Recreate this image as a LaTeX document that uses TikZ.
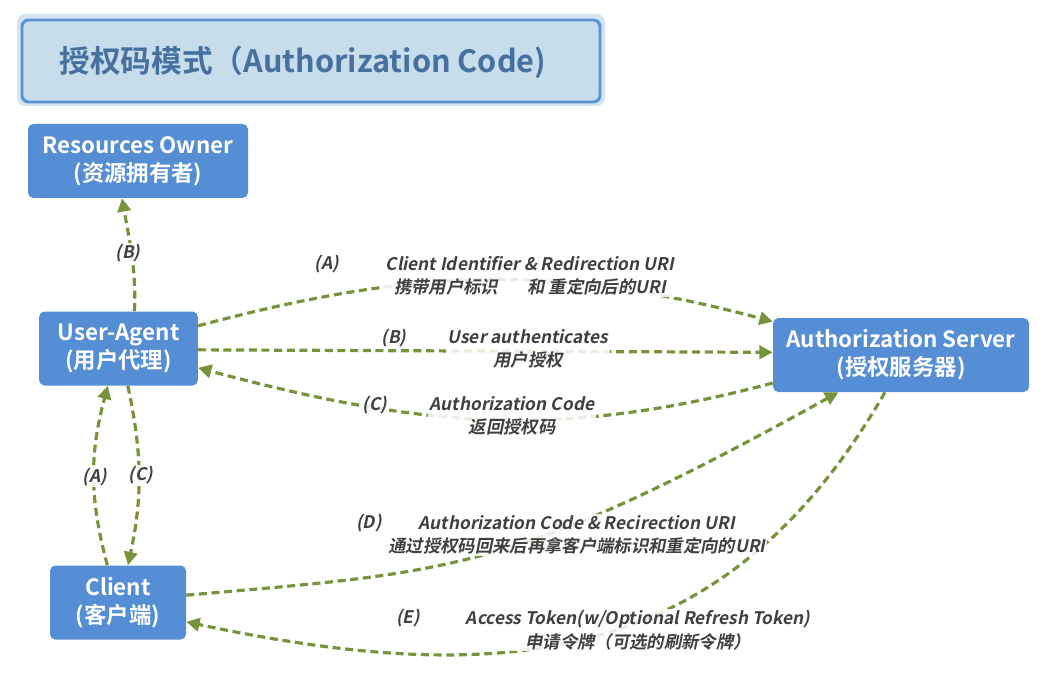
\documentclass[tikz,border=0pt]{standalone}
\usepackage{fontspec}
\setmainfont{Noto Sans CJK SC}[
  BoldFont={Noto Sans CJK SC Bold},
  ItalicFont={Noto Sans CJK SC},
  ItalicFeatures={FakeSlant=0.2},
  BoldItalicFont={Noto Sans CJK SC Bold},
  BoldItalicFeatures={FakeSlant=0.2}]
\usepackage{xcolor}
\usetikzlibrary{arrows.meta}

\definecolor{boxblue}{RGB}{85,142,213}
\definecolor{flowgreen}{RGB}{119,147,60}
\definecolor{titlefill}{RGB}{199,221,236}
\definecolor{titleborder}{RGB}{88,146,210}
\definecolor{titlehalo}{RGB}{214,228,240}
\definecolor{titletext}{RGB}{70,112,158}
\definecolor{labelgray}{RGB}{64,64,64}

\begin{document}
\begin{tikzpicture}[x=0.75pt,y=0.75pt,
    actor/.style={rectangle, rounded corners=4pt, fill=boxblue, text=white, align=center,
      font=\bfseries\fontsize{16.8}{21}\selectfont, minimum height=55.5pt, inner sep=2pt},
    flow/.style={draw=flowgreen, line width=2.4pt, dash pattern=on 6pt off 3.5pt,
      -{Triangle[length=10pt,width=10pt]}},
    tag/.style={font=\bfseries\itshape\fontsize{13}{17.5}\selectfont, text=labelgray,
      fill=white, fill opacity=0.85, text opacity=1, inner sep=1pt},
    msg/.style={tag, align=center}]

    \useasboundingbox (0,0) rectangle (1043,-681);

    % Title
    \node[fill=titlehalo, rounded corners=6pt, minimum width=441pt, minimum height=69pt] (halo) at (311,-60) {};
    \node[draw=titleborder, line width=2.2pt, fill=titlefill, rounded corners=5pt,
          minimum width=433.5pt, minimum height=61.5pt] (title) at (311,-61) {};
    \node[text=titletext, font=\bfseries\fontsize{23}{28}\selectfont] (titletext) at (303,-62) {授权码模式（Authorization Code)};

    % Nodes
    \node[actor, minimum width=165pt] (owner) at (138,-161) {Resources Owner\\(资源拥有者)};
    \node[actor, minimum width=119pt] (agent) at (118.5,-348.5) {User-Agent\\(用户代理)};
    \node[actor, minimum width=102pt] (client) at (118,-602.5) {Client\\(客户端)};
    \node[actor, minimum width=192pt] (server) at (901,-355) {Authorization Server\\(授权服务器)};

    % Edges
    \draw[flow] ([xshift=12pt]agent.north) to[out=88,in=-80] ([xshift=-12pt]owner.south);
    \draw[flow] ([xshift=-8pt]client.north) to[out=105,in=-105] ([xshift=-8pt]agent.south);
    \draw[flow] ([xshift=7pt]agent.south) to[out=-78,in=78] ([xshift=7.5pt]client.north);
    \draw[flow] ([yshift=17pt]agent.east) to[out=15,in=165] ([yshift=25pt]server.west);
    \draw[flow] ([yshift=-1pt]agent.east) -- ([yshift=2pt]server.west);
    \draw[flow] ([yshift=-21pt]server.west) to[out=195,in=-15] ([yshift=-14.5pt]agent.east);
    \draw[flow] ([yshift=5.5pt]client.east) to[out=5,in=209,in looseness=1.4] ([xshift=-47pt]server.south);
    \draw[flow] ([xshift=-12pt]server.south) to[out=-120,in=-12,out looseness=1.09,in looseness=1.16] ([yshift=-14.5pt]client.east);

    % Labels
    \node[tag] (tagOB) at (128,-253) {(B)};
    \node[tag] (tagCA) at (95,-477) {(A)};
    \node[tag] (tagAC) at (141,-475) {(C)};

    \node[tag] (tagA) at (327,-264) {(A)};
    \node[msg] (msgA) at (530,-276) {Client Identifier \& Redirection URI\\携带用户标识\hspace{22pt}和 重定向后的URI};
    \node[tag] (tagB) at (394,-338) {(B)};
    \node[msg] (msgB) at (528,-349) {User authenticates\\用户授权};
    \node[tag] (tagC) at (375,-405) {(C)};
    \node[msg] (msgC) at (512,-416) {Authorization Code\\返回授权码};
    \node[tag] (tagD) at (369,-523) {(D)};
    \node[msg] (msgD) at (577,-535) {Authorization Code \& Recirection URI\\通过授权码回来后再拿客户端标识和重定向的URI};
    \node[tag] (tagE) at (408,-618) {(E)};
    \node[msg] (msgE) at (638,-630) {Access Token(w/Optional Refresh Token)\\申请令牌（可选的刷新令牌）};

\end{tikzpicture}
\end{document}
